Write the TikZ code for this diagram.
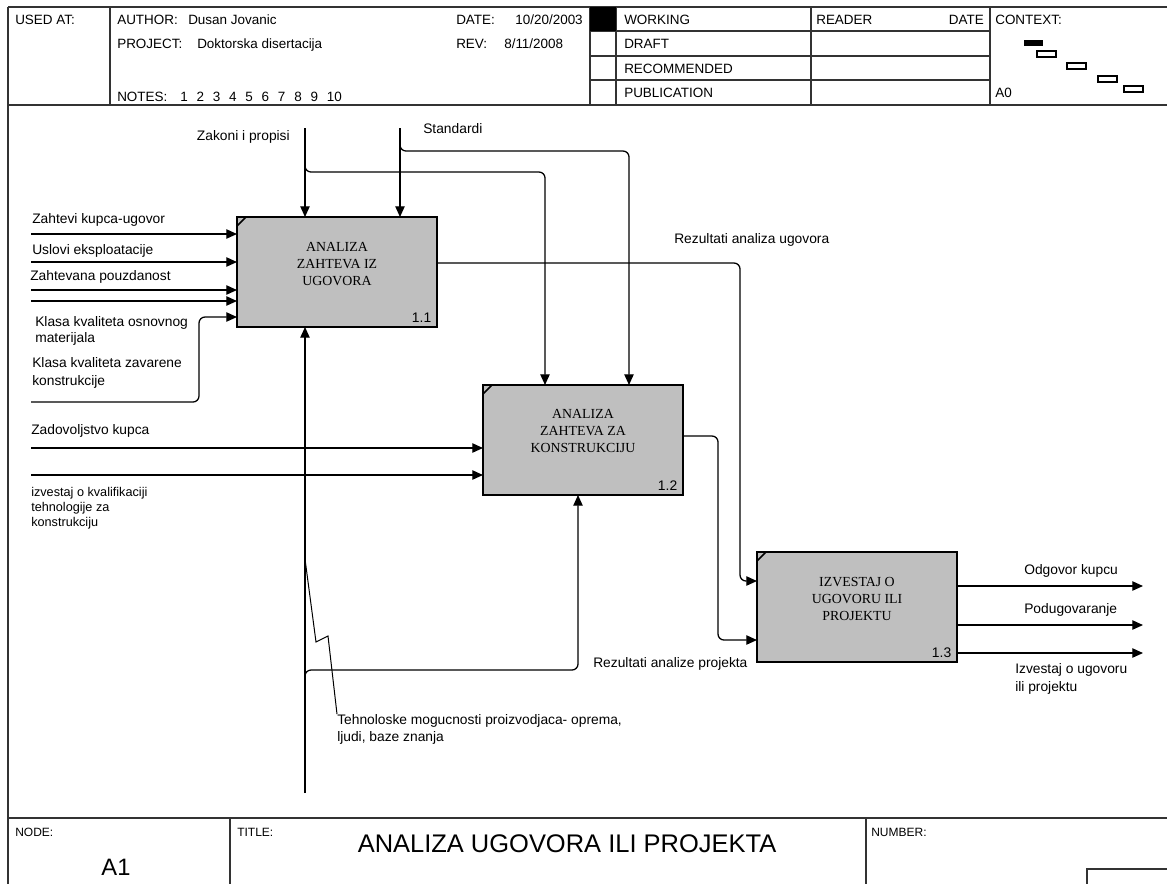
\documentclass[tikz,border=0pt]{standalone}
\usepackage{fontspec}
\setmainfont{Liberation Sans}
\newfontfamily\actfont{Liberation Serif}
\usetikzlibrary{arrows.meta,calc}

\tikzset{
  rule/.style={draw=black!80, line width=1.1pt},
  act/.style={draw=black, line width=1.9pt, fill=black!25, minimum width=150pt,
    minimum height=82.5pt, anchor=north west, inner sep=0pt, outer sep=0pt},
  acttext/.style={font=\actfont\fontsize{10.4}{12.75}\selectfont, align=center, anchor=north, inner sep=0pt},
  actnum/.style={font=\fontsize{10.4}{12}\selectfont, anchor=base east, inner sep=0pt},
  corner/.style={line width=1.3pt},
  link/.style={draw=black, line width=0.95pt, rounded corners=4.5pt},
  flow/.style={link, -{Triangle[length=8pt,width=7pt]}},
  lab/.style={font=\fontsize{10.35}{12.75}\selectfont, inner sep=0pt, anchor=base west},
  labtwo/.style={font=\fontsize{10.35}{12.75}\selectfont, inner sep=0pt, anchor=north west, align=left},
  labsm/.style={font=\fontsize{9.5}{11.25}\selectfont, inner sep=0pt, anchor=north west, align=left},
  head/.style={font=\fontsize{10.1}{12}\selectfont, inner sep=0pt, anchor=base west},
  foot/.style={font=\fontsize{9}{11}\selectfont, inner sep=0pt, anchor=base west},
  ctx/.style={draw=black, line width=0.9pt, fill=white},
}

\begin{document}
\begin{tikzpicture}[x=0.75pt,y=-0.75pt]
\useasboundingbox (0,0) rectangle (1167,883);
\clip (0,0) rectangle (1167,883);
\fill[white] (0,0) rectangle (1167,883);

% ---------- sheet frame and header ----------
\draw[rule] (8,7) -- (1180,7);
\draw[rule] (8,7) -- (8,900);
\draw[rule] (8,105) -- (1180,105);
\draw[rule] (110,7) -- (110,105);
\draw[rule] (590,7) -- (590,105);
\draw[rule] (616,7) -- (616,105);
\draw[rule] (811,7) -- (811,105);
\draw[rule] (990,7) -- (990,105);
\draw[rule] (590,31) -- (990,31);
\draw[rule] (590,56) -- (990,56);
\draw[rule] (590,80) -- (990,80);
\fill[black] (590,7) rectangle (616,31);

\node[head] (usedat) at (15,24) {USED AT:};
\node[head] (author) at (117,24) {AUTHOR:};
\node[head] (authorv) at (188,24) {Dusan Jovanic};
\node[head] (project) at (117,48.5) {PROJECT:};
\node[head] (projectv) at (197,48.5) {Doktorska disertacija};
\node[head] (notes) at (117,101) {NOTES:};
\node[head] (notesv) at (180,101) {1\hspace{6.6pt}2\hspace{6.6pt}3\hspace{6.6pt}4\hspace{6.6pt}5\hspace{6.6pt}6\hspace{6.6pt}7\hspace{6.6pt}8\hspace{6.6pt}9\hspace{6.6pt}10};
\node[head] (date) at (456,24) {DATE:};
\node[head, anchor=base east] (datev) at (583,24) {10/20/2003};
\node[head] (rev) at (456,48.5) {REV:};
\node[head] (revv) at (504,48.5) {8/11/2008};
\node[head] (working) at (624,24) {WORKING};
\node[head] (draft) at (624,48.5) {DRAFT};
\node[head] (recom) at (624,73) {RECOMMENDED};
\node[head] (publ) at (624,97.5) {PUBLICATION};
\node[head] (reader) at (816,24) {READER};
\node[head, anchor=base east] (rdate) at (984,24) {DATE};
\node[head] (context) at (995,24) {CONTEXT:};
\node[head] (azero) at (995,97.5) {A0};

% context map
\fill[black] (1024,40) rectangle (1043,46);
\draw[ctx] (1037,51) rectangle (1056,57);
\draw[ctx] (1067,63) rectangle (1086,69);
\draw[ctx] (1098,76) rectangle (1117,82);
\draw[ctx] (1124,86) rectangle (1143,92);

% ---------- footer ----------
\draw[rule] (8,818) -- (1180,818);
\draw[rule] (230,818) -- (230,900);
\draw[rule] (866,818) -- (866,900);
\draw[rule] (1087,869) rectangle (1190,900);
\node[foot] (nodelab) at (15,836) {NODE:};
\node[foot] (titlelab) at (237,836) {TITLE:};
\node[foot] (numlab) at (871,836) {NUMBER:};
\node[font=\fontsize{17.8}{20}\selectfont, anchor=base, inner sep=0pt] (nodeid) at (116,875) {A1};
\node[font=\fontsize{19.1}{22}\selectfont, anchor=base, inner sep=0pt] (title) at (567,852) {ANALIZA UGOVORA ILI PROJEKTA};

% ---------- activities ----------
\node[act] (b1) at (237,217) {};
\node[act] (b2) at (483,385) {};
\node[act] (b3) at (757,552) {};
\foreach \b in {b1,b2,b3}
  \draw[corner] ($(\b.north west)+(0,9)$) -- ($(\b.north west)+(9,0)$);

\node[acttext] (t1) at ($(b1.north)+(0,25)$) {ANALIZA\\ZAHTEVA IZ\\UGOVORA};
\node[acttext] (t2) at ($(b2.north)+(0,24)$) {ANALIZA\\ZAHTEVA ZA\\KONSTRUKCIJU};
\node[acttext] (t3) at ($(b3.north)+(0,25)$) {IZVESTAJ O\\UGOVORU ILI\\PROJEKTU};
\node[actnum] (n1) at ($(b1.south east)+(-5.5,-5)$) {1.1};
\node[actnum] (n2) at ($(b2.south east)+(-5.5,-5)$) {1.2};
\node[actnum] (n3) at ($(b3.south east)+(-5.5,-5)$) {1.3};

% ---------- inputs of 1.1 ----------
\coordinate (in11) at (31,234);
\coordinate (in12) at (31,262);
\coordinate (in13) at (31,290);
\coordinate (in14) at (31,301);
\coordinate (in15) at (31,402);
\coordinate (k15) at (199,317);
\draw[flow] (in11) -- (in11 -| b1.west);
\draw[flow] (in12) -- (in12 -| b1.west);
\draw[flow] (in13) -- (in13 -| b1.west);
\draw[flow] (in14) -- (in14 -| b1.west);
\draw[flow] (in15) -| (k15) -- (k15 -| b1.west);

\node[lab] (l11) at (32,223.5) {Zahtevi kupca-ugovor};
\node[lab] (l12) at (32,254.5) {Uslovi eksploatacije};
\node[lab] (l13) at (30,280.5) {Zahtevana pouzdanost};
\node[labtwo, font=\fontsize{10.35}{12}\selectfont] (l14) at (35,316.5) {Klasa kvaliteta osnovnog\\materijala};
\node[labtwo, font=\fontsize{10.35}{13.5}\selectfont] (l15) at (32,357.5) {Klasa kvaliteta zavarene\\konstrukcije};

% ---------- controls ----------
\coordinate (zak) at (305,128);
\coordinate (std) at (400,128);
\coordinate (c2a) at (545,172);
\coordinate (c2b) at (629,151);
\draw[flow] (zak) -- (zak |- b1.north);
\draw[flow] (std) -- (std |- b1.north);
\draw[flow] ($(zak)+(0,34)$) |- (c2a) -- (c2a |- b2.north);
\draw[flow] ($(std)+(0,12)$) |- (c2b) -- (c2b |- b2.north);
\node[lab, anchor=base east] (lzak) at (290,140.5) {Zakoni i propisi};
\node[lab] (lstd) at (423,133.5) {Standardi};

% ---------- outputs of 1.1 and 1.2 ----------
\coordinate (r1) at (740,263);
\coordinate (r2) at (718,436);
\draw[flow] (b1.east |- r1) -- (r1) |- ($(b3.north west)+(0,29)$);
\draw[flow] (b2.east |- r2) -- (r2) |- ($(b3.north west)+(0,88)$);
\node[lab] (lr1) at (674,243.5) {Rezultati analiza ugovora};
\node[lab] (lr2) at (593,667.5) {Rezultati analize projekta};

% ---------- inputs of 1.2 ----------
\coordinate (in21) at (31,448);
\coordinate (in22) at (31,475);
\draw[flow] (in21) -- (in21 -| b2.west);
\draw[flow] (in22) -- (in22 -| b2.west);
\node[lab] (l21) at (31,434.5) {Zadovoljstvo kupca};
\node[labsm] (l22) at (31,487) {izvestaj o kvalifikaciji\\tehnologije za\\konstrukciju};

% ---------- mechanism ----------
\coordinate (mech) at (305,793);
\coordinate (m2) at (578,670);
\draw[flow] (mech) -- (mech |- b1.south);
\draw[flow] ($(mech)+(0,-110)$) |- (m2) -- (m2 |- b2.south);
\node[labtwo] (lmech) at (337,714) {Tehnoloske mogucnosti proizvodjaca- oprema,\\ljudi, baze znanja};
\draw[line width=0.75pt] ($(mech)+(0,-234)$) -- (316,642) -- (328,636) -- (lmech.north west);

% ---------- outputs of 1.3 ----------
\coordinate (o1) at (1143,586);
\coordinate (o2) at (1143,625);
\coordinate (o3) at (1143,653);
\draw[flow] (b3.east |- o1) -- (o1);
\draw[flow] (b3.east |- o2) -- (o2);
\draw[flow] (b3.east |- o3) -- (o3);
\node[lab] (lo1) at (1024,574.5) {Odgovor kupcu};
\node[lab] (lo2) at (1024,613.5) {Podugovaranje};
\node[labtwo, font=\fontsize{10.35}{13.5}\selectfont] (lo3) at (1015,663.5) {Izvestaj o ugovoru\\ili projektu};
\end{tikzpicture}
\end{document}
